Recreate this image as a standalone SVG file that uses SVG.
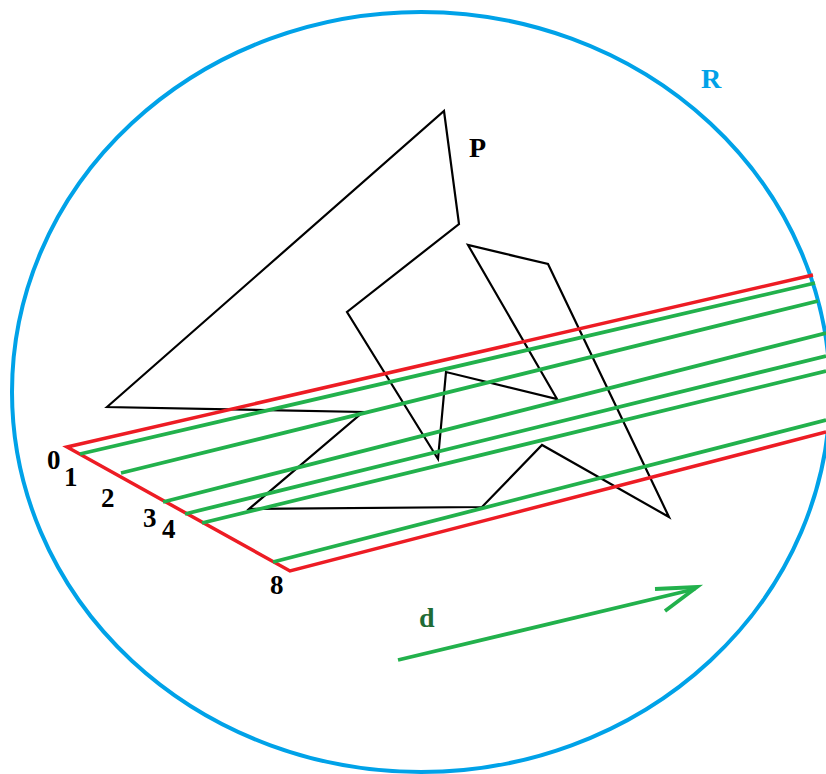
<svg xmlns="http://www.w3.org/2000/svg" width="826" height="774" viewBox="0 0 826 774">
<style>
.blue{fill:none;stroke:#00a2e8;stroke-width:4}
.red{fill:none;stroke:#ed1c24;stroke-width:3.5;stroke-linejoin:miter}
.green{fill:none;stroke:#22b14c;stroke-width:3.8;stroke-linecap:butt}
.black{fill:none;stroke:#000;stroke-width:2.2;stroke-linejoin:miter}
.lbl{font-family:"Liberation Serif","Times New Roman",serif;font-weight:bold}
.num{font-size:27px;fill:#000}
</style>
<rect width="826" height="774" fill="#fff"/>
<g id="circle-R">
<ellipse class="blue" cx="421" cy="392" rx="409" ry="380"/>
<text class="lbl" x="701" y="88" font-size="28" fill="#00a2e8">R</text>
</g>
<g id="polygon-P">
<polygon class="black" points="107,407 444,111 459,224 347,312 438,459 446,372 557,399 468,245 548,264 669,517 542,445 482,507 249,509 363,412"/>
<text class="lbl" x="469" y="157" font-size="28" fill="#000">P</text>
</g>
<g id="connectors">
<g id="strip">
<polyline class="red" points="813,275 67,447 290,571 826,432"/>
</g>
<g id="rays">
<line class="green" x1="80" y1="454" x2="815" y2="283"/>
<line class="green" x1="121" y1="473" x2="818" y2="301"/>
<line class="green" x1="163" y1="502" x2="826" y2="333"/>
<line class="green" x1="185" y1="514" x2="826" y2="356"/>
<line class="green" x1="202" y1="523" x2="826" y2="371"/>
<line class="green" x1="273" y1="562" x2="826" y2="420"/>
</g>
<g id="arrow-d">
<line class="green" x1="398" y1="660" x2="695" y2="589"/>
<polyline class="green" points="655,589 697,587 665,611"/>
</g>
</g>
<g id="labels">
<text class="lbl" x="419" y="627" font-size="28" fill="#1f6b35">d</text>
<text class="lbl num" x="47" y="469">0</text>
<text class="lbl num" x="64" y="486">1</text>
<text class="lbl num" x="101" y="507">2</text>
<text class="lbl num" x="143" y="527">3</text>
<text class="lbl num" x="162" y="538">4</text>
<text class="lbl num" x="270" y="594">8</text>
</g>
</svg>
